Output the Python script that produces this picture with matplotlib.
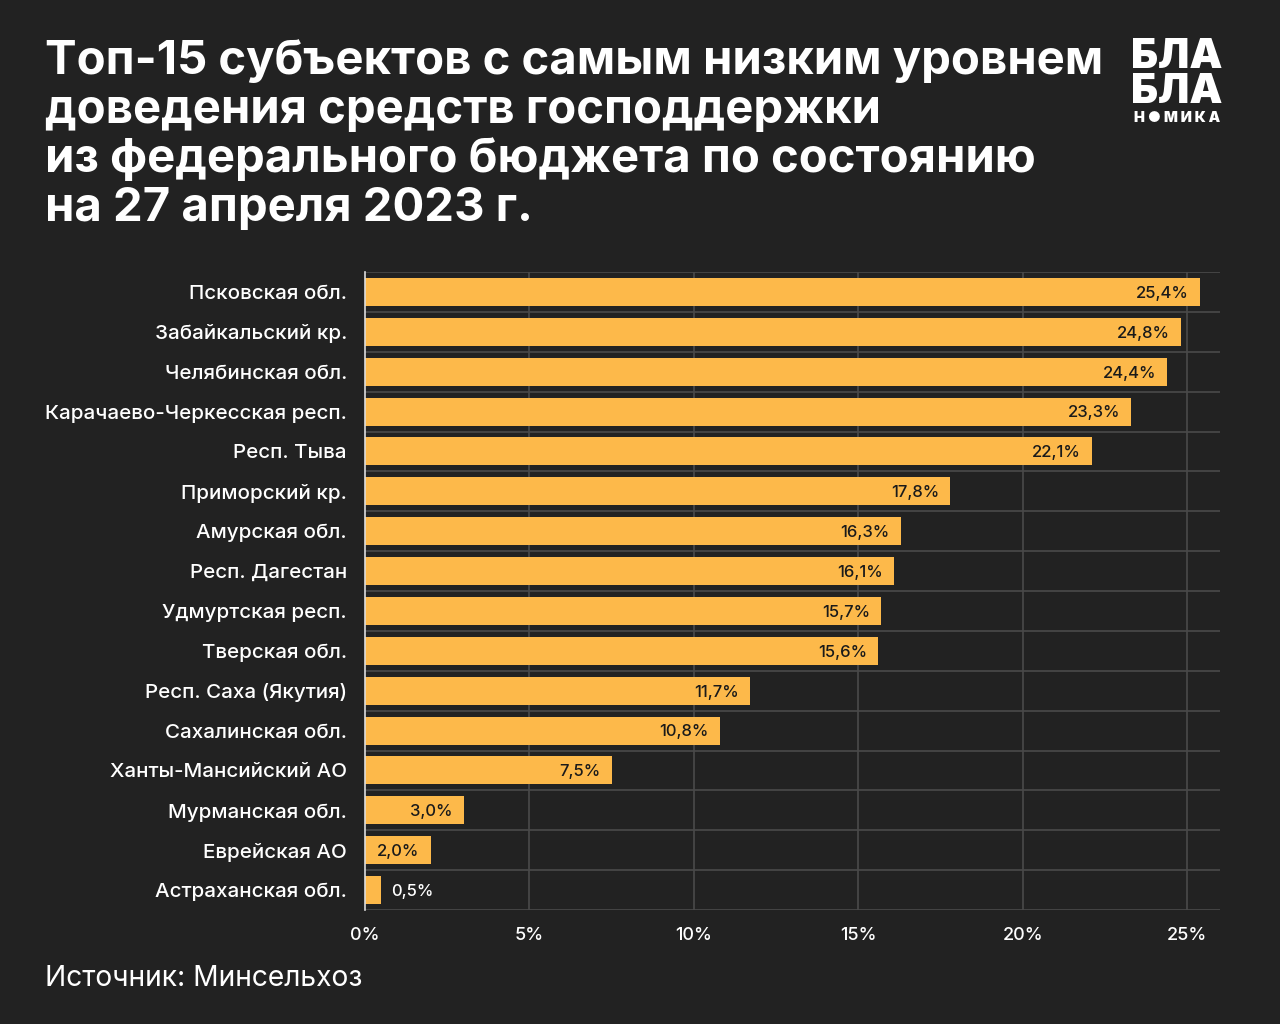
import matplotlib
matplotlib.use("Agg")
import matplotlib.pyplot as plt
from matplotlib.ticker import FuncFormatter

categories = ["Псковская обл.", "Забайкальский кр.", "Челябинская обл.",
              "Карачаево-Черкесская респ.", "Респ. Тыва", "Приморский кр.",
              "Амурская обл.", "Респ. Дагестан", "Удмуртская респ.",
              "Тверская обл.", "Респ. Саха (Якутия)", "Сахалинская обл.",
              "Ханты-Мансийский АО", "Мурманская обл.", "Еврейская АО",
              "Астраханская обл."]
values = [25.4, 24.8, 24.4, 23.3, 22.1, 17.8, 16.3, 16.1, 15.7, 15.6,
          11.7, 10.8, 7.5, 3.0, 2.0, 0.5]
xticks = [0, 5, 10, 15, 20, 25]

title = ("Топ-15 субъектов с самым низким уровнем\n"
         "доведения средств господдержки\n"
         "из федерального бюджета по состоянию\n"
         "на 27 апреля 2023 г.")
source = "Источник: Минсельхоз"

BG = "#222222"
BAR = "#FDB94A"
GRID = "#4a4a4a"
FONT = "Inter"

plt.rcParams['font.family'] = [FONT, 'DejaVu Sans']

fig = plt.figure(figsize=(12.8, 10.24), dpi=100, facecolor=BG)
ax = fig.add_axes([365/1280, 1 - 910/1024, (1220-365)/1280, (910-272)/1024])
ax.set_facecolor(BG)

n = len(categories)
ys = list(range(n))
ax.barh(ys, values, height=0.7, color=BAR, zorder=3)
ax.set_ylim(n - 0.5, -0.5)
ax.set_xlim(0, 26)

for b in range(n + 1):
    ax.axhline(b - 0.5, color=GRID, lw=1.2, zorder=1)
for t in xticks[1:]:
    ax.axvline(t, color=GRID, lw=1.2, zorder=1)

ax.set_xticks(xticks)
ax.xaxis.set_major_formatter(FuncFormatter(lambda v, p: f"{int(v)}%"))
ax.set_yticks(ys)
ax.set_yticklabels(categories)
ax.tick_params(axis='x', colors='white', labelsize=13, length=0, pad=12)
ax.tick_params(axis='y', colors='white', labelsize=14.8, length=0, pad=13)
for lab in ax.get_xticklabels() + ax.get_yticklabels():
    lab.set_color('white')
    lab.set_fontweight('medium')

for s in ['top', 'right', 'bottom']:
    ax.spines[s].set_visible(False)
ax.spines['left'].set_color('#dddddd')
ax.spines['left'].set_linewidth(1.2)
ax.spines['left'].set_zorder(4)

for y, v in zip(ys, values):
    txt = f"{v:.1f}".replace('.', ',') + "%"
    if v >= 1.5:
        ax.annotate(txt, (v, y), xytext=(-8, -1), textcoords='offset points',
                    ha='right', va='center', color='#1a1a1a', fontsize=12,
                    fontweight='medium', zorder=5)
    else:
        ax.annotate(txt, (v, y), xytext=(7, -1), textcoords='offset points',
                    ha='left', va='center', color='white', fontsize=12,
                    fontweight='medium', zorder=5)

fig.text(45/1280, 1 - 40/1024, title, ha='left', va='top', color='white',
         fontsize=34, fontweight='bold', linespacing=1.15)

fig.text(45/1280, 1 - 978/1024, source, ha='left', va='center', color='white',
         fontsize=20.3)

# logo
fig.text(1177/1280, 1 - 57/1024, "БЛА", ha='center', va='center', color='white',
         fontsize=30, fontweight='black')
fig.text(1177/1280, 1 - 92/1024, "БЛА", ha='center', va='center', color='white',
         fontsize=30, fontweight='black')
fig.text(1177/1280, 1 - 118/1024, "Н ● М И К А", ha='center', va='center',
         color='white', fontsize=10.5, fontweight='black')

fig.savefig("out.png", dpi=100, facecolor=BG)
